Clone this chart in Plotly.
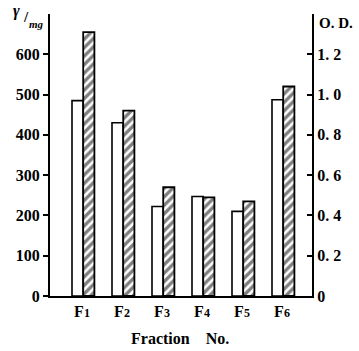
import plotly.graph_objects as go

categories = ["F1", "F2", "F3", "F4", "F5", "F6"]
cat_labels = ["F<span style='font-size:12px'>%s</span>" % c[1:] for c in categories]
protein = [485, 430, 222, 247, 210, 487]          # γ/mg, left axis (open bars)
od = [1.31, 0.92, 0.54, 0.49, 0.47, 1.04]         # O.D., right axis (hatched bars)
left_ticks = [0, 100, 200, 300, 400, 500, 600]
right_ticks = [0, 0.2, 0.4, 0.6, 0.8, 1.0, 1.2]
right_ticktext = ["0", "0. 2", "0. 4", "0. 6", "0. 8", "1. 0", "1. 2"]

FONT = "Liberation Serif"

fig = go.Figure()
fig.add_trace(go.Bar(
    x=categories, y=protein, yaxis="y", width=0.28, offset=-0.25,
    marker=dict(color="white", line=dict(color="black", width=1.6)),
    showlegend=False,
))
fig.add_trace(go.Bar(
    x=categories, y=od, yaxis="y2", width=0.28, offset=0.03,
    marker=dict(color="white", line=dict(color="black", width=1.8),
                pattern=dict(shape="/", fgcolor="black", bgcolor="white",
                             size=6, solidity=0.55)),
    showlegend=False,
))

fig.update_layout(
    width=359, height=351,
    margin=dict(l=50, r=47, t=14, b=55),
    paper_bgcolor="white", plot_bgcolor="white",
    font=dict(family=FONT, color="black"),
    barmode="overlay",
    xaxis=dict(
        type="category", range=[-0.8, 5.75],
        tickvals=categories, ticktext=cat_labels,
        showline=True, linecolor="black", linewidth=2,
        ticks="", showgrid=False, zeroline=False,
        tickfont=dict(family=FONT, size=16, weight="bold"),
    ),
    yaxis=dict(
        range=[0, 700], tickvals=left_ticks,
        showline=True, linecolor="black", linewidth=2,
        ticks="outside", ticklen=5, tickwidth=2, tickcolor="black",
        showgrid=False, zeroline=False,
        tickfont=dict(family=FONT, size=16, weight="bold"),
    ),
    yaxis2=dict(
        range=[0, 1.4], overlaying="y", side="right",
        tickvals=right_ticks, ticktext=right_ticktext,
        showline=True, linecolor="black", linewidth=2,
        ticks="inside", ticklen=5, tickwidth=2, tickcolor="black",
        showgrid=False, zeroline=False,
        tickfont=dict(family=FONT, size=16, weight="bold"),
    ),
    annotations=[
        dict(text="<b><i>γ</i></b>", xref="paper", yref="paper",
             x=-0.128, y=1.01, xanchor="center", yanchor="middle",
             showarrow=False, font=dict(family=FONT, size=16)),
        dict(text="<b>/</b>", xref="paper", yref="paper",
             x=-0.092, y=0.99, xanchor="center", yanchor="middle",
             showarrow=False, font=dict(family=FONT, size=15)),
        dict(text="<b><i>mg</i></b>", xref="paper", yref="paper",
             x=-0.05, y=0.965, xanchor="center", yanchor="middle",
             showarrow=False, font=dict(family=FONT, size=11)),
        dict(text="<b>O. D.</b>", xref="paper", yref="paper",
             x=1.018, y=0.968, xanchor="left", yanchor="middle",
             showarrow=False, font=dict(family=FONT, size=15)),
        dict(text="<b>Fraction&nbsp;&nbsp;&nbsp;&nbsp;No.</b>", xref="paper", yref="paper",
             x=0.496, y=-0.149, xanchor="center", yanchor="middle",
             showarrow=False, font=dict(family=FONT, size=16)),
    ],
)

fig.write_html("out.html")
